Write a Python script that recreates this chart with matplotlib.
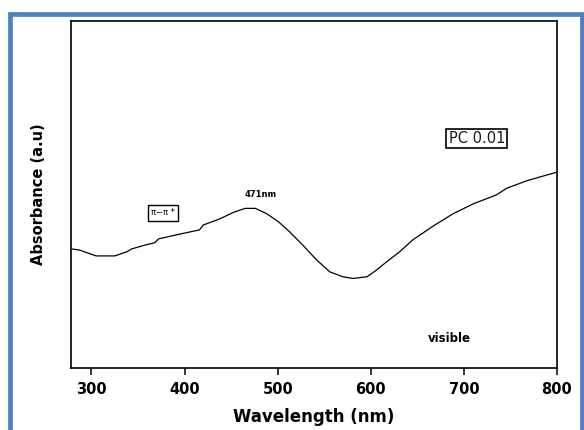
import matplotlib
matplotlib.use("Agg")
import matplotlib.pyplot as plt
from matplotlib.patches import Rectangle

wavelength = [279, 287, 305, 325, 338, 343, 357, 368, 372, 390, 416, 420, 438, 452,
              465, 476, 488, 501, 513, 527, 542, 556, 570, 581, 596, 606, 617, 631,
              645, 667, 688, 710, 735, 746, 768, 798, 800]
absorbance = [0.343, 0.340, 0.323, 0.323, 0.335, 0.343, 0.354, 0.361, 0.372, 0.383,
              0.398, 0.412, 0.430, 0.448, 0.460, 0.460, 0.445, 0.421, 0.392, 0.354,
              0.311, 0.277, 0.263, 0.258, 0.263, 0.282, 0.306, 0.335, 0.369, 0.409,
              0.444, 0.473, 0.499, 0.518, 0.540, 0.563, 0.564]
xticks = [300, 400, 500, 600, 700, 800]

fig = plt.figure(figsize=(5.84, 4.30), dpi=100)
fig.patch.set_facecolor("white")

# blue frame
W, H = 584.0, 430.0
frame = Rectangle((9.5 / W, -20 / H), (581.5 - 9.5) / W, (430 - 14 + 20) / H,
                  transform=fig.transFigure, fill=False, edgecolor="#4f81bd",
                  linewidth=3.4, clip_on=False)
fig.patches.append(frame)

ax = fig.add_axes([71 / W, 1 - 368 / H, (557 - 71) / W, (368 - 21) / H])
ax.plot(wavelength, absorbance, color="black", linewidth=0.9)
ax.set_xlim(278, 800)
ax.set_ylim(0, 1)
ax.set_xticks(xticks)
ax.set_xticklabels([str(t) for t in xticks], fontweight="bold", fontsize=10.5)
ax.set_yticks([])
ax.tick_params(axis="x", direction="out", length=5, width=1.1, pad=5)
for s in ax.spines.values():
    s.set_linewidth(1.2)
    s.set_color("black")

ax.set_xlabel("Wavelength (nm)", fontweight="bold", fontsize=12, labelpad=8)
ax.set_ylabel("Absorbance (a.u)", fontweight="bold", fontsize=10.5, labelpad=18)

ax.text(377, 0.447, "π−π *", fontsize=6, ha="center", va="center",
        bbox=dict(boxstyle="square,pad=0.4", facecolor="white", edgecolor="black", linewidth=1.0))
ax.text(481.5, 0.501, "471nm", fontsize=6, fontweight="bold", ha="center", va="center")
ax.text(713.8, 0.661, "PC 0.01", fontsize=10.5, ha="center", va="center", color="#1a1a1a",
        bbox=dict(boxstyle="square,pad=0.15", facecolor="white", edgecolor="black", linewidth=1.2))
ax.text(684.7, 0.086, "visible", fontsize=8.5, fontweight="bold", ha="center", va="center")

fig.savefig("out.png", dpi=100)
